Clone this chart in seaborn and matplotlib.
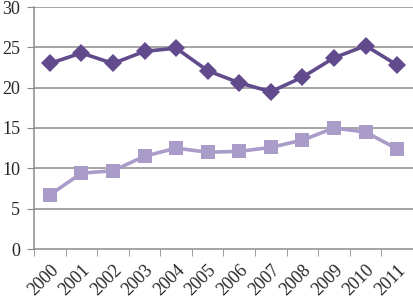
import pandas as pd
import numpy as np
import matplotlib.pyplot as plt
import seaborn as sns

# Data
years = ['2000', '2001', '2002', '2003', '2004', '2005',
         '2006', '2007', '2008', '2009', '2010', '2011']
upper = [23.0, 24.3, 23.0, 24.5, 24.9, 22.1, 20.6, 19.5, 21.3, 23.7, 25.2, 22.8]
lower = [6.7, 9.4, 9.7, 11.5, 12.5, 12.0, 12.1, 12.6, 13.5, 15.0, 14.5, 12.4]

df = pd.DataFrame({'pos': np.arange(len(years)), 'upper': upper, 'lower': lower})

sns.set_style('white')
plt.rcParams['font.family'] = ['Liberation Serif', 'DejaVu Serif']

fig = plt.figure(figsize=(4.14, 2.99), dpi=100)
ax = fig.add_axes([34 / 414, 1 - 249 / 299, 379 / 414, 242 / 299])

grid_c = '#8c8c8c'
for v in range(5, 31, 5):
    ax.axhline(v, color=grid_c, lw=1.1, zorder=0)

sns.lineplot(data=df, x='pos', y='upper', ax=ax, color='#614b8c', lw=2.6,
             marker='D', markersize=9.5, markeredgewidth=0, zorder=3)
sns.lineplot(data=df, x='pos', y='lower', ax=ax, color='#a99cc9', lw=2.6,
             marker='s', markersize=10, markeredgewidth=0, zorder=3)

ax.set_xlim(-0.5, len(years) - 0.5)
ax.set_ylim(0, 30)
ax.set_yticks(range(0, 31, 5))
ax.set_xticks(np.arange(len(years)))
ax.set_xticklabels(years, rotation=45, ha='right', rotation_mode='anchor', fontsize=13)
ax.set_xticks(np.arange(-0.5, len(years)), minor=True)
ax.tick_params(axis='x', which='major', length=0, pad=9)
ax.tick_params(axis='x', which='minor', length=5, color=grid_c, direction='out', bottom=True)
ax.tick_params(axis='y', length=5, color=grid_c, direction='out', left=True, labelsize=13, pad=5)
ax.set_xlabel('')
ax.set_ylabel('')

for s in ['top', 'right']:
    ax.spines[s].set_visible(False)
for s in ['left', 'bottom']:
    ax.spines[s].set_color(grid_c)
    ax.spines[s].set_linewidth(1.1)

fig.savefig('out.png', dpi=100)
